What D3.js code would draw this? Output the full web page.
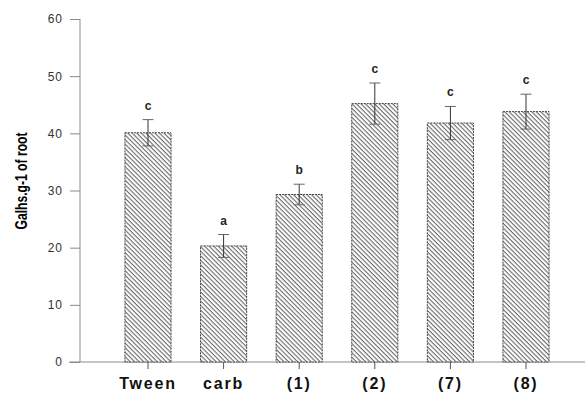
<!DOCTYPE html>
<html><head><meta charset="utf-8">
<script src="https://cdn.jsdelivr.net/npm/d3@7"></script>
<style>body{margin:0;background:#fff}</style>
</head><body>
<svg id="c" width="586" height="393"></svg>
<script>
const categories = ["Tween", "carb", "(1)", "(2)", "(7)", "(8)"];
const values = [40.1, 20.3, 29.3, 45.2, 41.8, 43.8];
const errors = [2.3, 2.0, 1.8, 3.6, 2.9, 3.05];
const letters = ["c", "a", "b", "c", "c", "c"];
const yTicks = [0, 10, 20, 30, 40, 50, 60];
const yLabel = "Galhs.g-1 of root";

const svg = d3.select("#c");
const y = d3.scaleLinear().domain([0, 60]).range([362, 19]);
const x = d3.scaleBand().domain(categories).range([110.2, 563.8]).paddingInner(0.39).paddingOuter(0.195);

const defs = svg.append("defs");
const pat = defs.append("pattern").attr("id", "hatch").attr("patternUnits", "userSpaceOnUse")
  .attr("width", 3.2).attr("height", 3.2).attr("patternTransform", "rotate(45)");
pat.append("rect").attr("width", 3.2).attr("height", 3.2).attr("fill", "#fff");
pat.append("line").attr("x1", 0).attr("y1", 0).attr("x2", 3.2).attr("y2", 0)
  .attr("stroke", "#6a6a6a").attr("stroke-width", 2.2);

const font = "Liberation Sans, Arial, sans-serif";

// y axis
const yAxis = d3.axisLeft(y).tickValues(yTicks).tickSize(10).tickPadding(7);
const gy = svg.append("g").attr("transform", "translate(80,0)").call(yAxis);
gy.select(".domain").attr("stroke", "#8a8a8a").attr("d", "M0,19V362");
gy.selectAll(".tick line").attr("stroke", "#8a8a8a");
gy.selectAll(".tick text").attr("fill", "#333").style("font-family", font)
  .style("font-size", "12px").style("letter-spacing", "1px");

// x axis
const xAxis = d3.axisBottom(x).tickSize(7).tickPadding(10);
const gx = svg.append("g").attr("transform", "translate(0,362)").call(xAxis);
gx.select(".domain").attr("stroke", "#8a8a8a").attr("d", "M69,0H585");
gx.selectAll(".tick line").attr("stroke", "#555");
gx.selectAll(".tick text").attr("fill", "#111").attr("y", 27).attr("dy", 0)
  .style("font-family", font).style("font-size", "16px").style("font-weight", "bold")
  .style("letter-spacing", "1.8px");

// bars
svg.append("g").selectAll("rect").data(categories).join("rect")
  .attr("x", d => x(d)).attr("width", x.bandwidth())
  .attr("y", (d, i) => y(values[i])).attr("height", (d, i) => y(0) - y(values[i]))
  .attr("fill", "url(#hatch)").attr("stroke", "#444").attr("stroke-width", 1)
  .attr("stroke-dasharray", "2,1");

// error bars
const eg = svg.append("g").attr("stroke", "#333").attr("stroke-width", 1);
categories.forEach((c, i) => {
  const cx = x(c) + x.bandwidth() / 2;
  const top = y(values[i] + errors[i]), bot = y(values[i] - errors[i]);
  eg.append("line").attr("x1", cx).attr("x2", cx).attr("y1", top).attr("y2", bot);
  eg.append("line").attr("x1", cx - 5.5).attr("x2", cx + 5.5).attr("y1", top).attr("y2", top).attr("stroke", "#666");
  eg.append("line").attr("x1", cx - 5.5).attr("x2", cx + 5.5).attr("y1", bot).attr("y2", bot).attr("stroke", "#666");
});

// letters
svg.append("g").selectAll("text").data(categories).join("text")
  .attr("x", d => x(d) + x.bandwidth() / 2)
  .attr("y", (d, i) => y(values[i] + errors[i]) - 10)
  .attr("text-anchor", "middle").attr("fill", "#222")
  .style("font-family", font).style("font-size", "12px").style("font-weight", "bold")
  .text((d, i) => letters[i]);

// y label
svg.append("text").attr("transform", "translate(27,181) rotate(-90)")
  .attr("text-anchor", "middle").attr("fill", "#000")
  .attr("textLength", 97).attr("lengthAdjust", "spacingAndGlyphs")
  .style("font-family", font)
  .style("font-size", "17px").style("font-weight", "bold")
  .text(yLabel);
</script>
</body></html>
